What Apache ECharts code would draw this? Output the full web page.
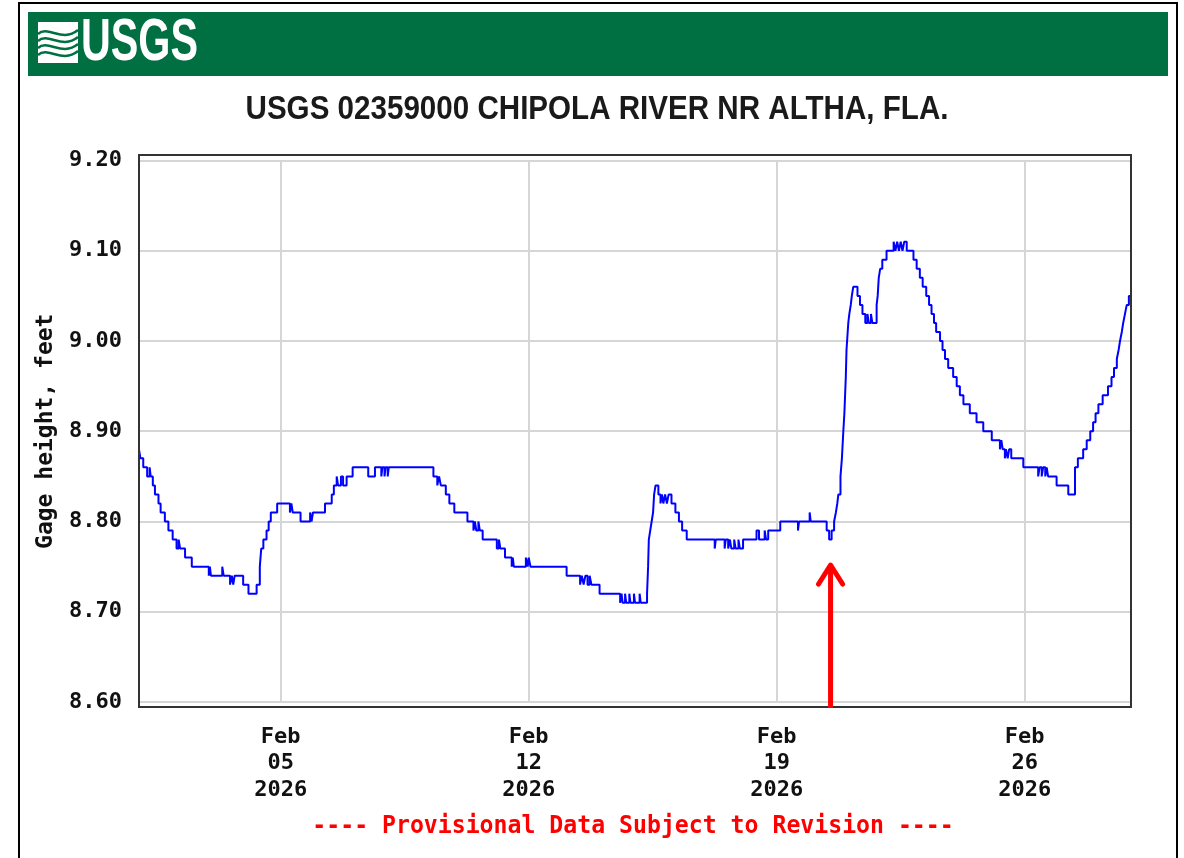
<!DOCTYPE html>
<html>
<head>
<meta charset="utf-8">
<title>USGS 02359000 CHIPOLA RIVER NR ALTHA, FLA.</title>
<script src="https://cdn.jsdelivr.net/npm/echarts@6/dist/echarts.min.js"></script>
<style>
  html, body { margin: 0; padding: 0; background: #fff; }
  #gage { width: 1184px; height: 858px; }
</style>
</head>
<body>
<div id="gage"></div>
<script>
  // gage height readings: [days since 2026-02-01 00:00, feet], drawn as a step line
  const readings = [
    [0.00, 8.88], [0.04, 8.87], [0.12, 8.86], [0.23, 8.85], [0.30, 8.86], [0.33, 8.85],
    [0.39, 8.84], [0.45, 8.83], [0.55, 8.82], [0.61, 8.81], [0.73, 8.80], [0.83, 8.79],
    [0.95, 8.78], [1.06, 8.77], [1.12, 8.78], [1.16, 8.77], [1.30, 8.76], [1.49, 8.75],
    [1.97, 8.74], [2.00, 8.75], [2.03, 8.74], [2.35, 8.75], [2.39, 8.74], [2.57, 8.73],
    [2.62, 8.74], [2.66, 8.73], [2.70, 8.74], [2.94, 8.73], [3.09, 8.72], [3.32, 8.73],
    [3.41, 8.75], [3.45, 8.77], [3.51, 8.78], [3.60, 8.79], [3.66, 8.80], [3.72, 8.81],
    [3.90, 8.82], [4.26, 8.81], [4.30, 8.82], [4.34, 8.81], [4.56, 8.80], [4.83, 8.81],
    [4.87, 8.80], [4.91, 8.81], [5.25, 8.82], [5.44, 8.83], [5.50, 8.84], [5.58, 8.85],
    [5.62, 8.84], [5.70, 8.85], [5.76, 8.84], [5.86, 8.85], [6.03, 8.86], [6.47, 8.85],
    [6.66, 8.86], [6.84, 8.85], [6.87, 8.86], [6.93, 8.85], [6.96, 8.86], [7.02, 8.85],
    [7.05, 8.86], [8.31, 8.85], [8.42, 8.84], [8.47, 8.85], [8.52, 8.84], [8.66, 8.83],
    [8.76, 8.82], [8.90, 8.81], [9.27, 8.80], [9.44, 8.79], [9.48, 8.80], [9.52, 8.79],
    [9.58, 8.80], [9.62, 8.79], [9.70, 8.78], [10.10, 8.77], [10.16, 8.78], [10.20, 8.77],
    [10.33, 8.76], [10.52, 8.75], [10.55, 8.76], [10.58, 8.75], [10.92, 8.76], [10.97, 8.75],
    [11.00, 8.76], [11.05, 8.75], [12.07, 8.74], [12.45, 8.73], [12.50, 8.74], [12.55, 8.73],
    [12.60, 8.74], [12.66, 8.73], [12.72, 8.74], [12.77, 8.73], [13.00, 8.72], [13.58, 8.71],
    [13.62, 8.72], [13.65, 8.71], [13.72, 8.72], [13.75, 8.71], [13.84, 8.72], [13.87, 8.71],
    [13.97, 8.72], [14.00, 8.71], [14.13, 8.72], [14.16, 8.71], [14.34, 8.72], [14.37, 8.75],
    [14.39, 8.78], [14.43, 8.79], [14.47, 8.80], [14.51, 8.81], [14.54, 8.83], [14.58, 8.84],
    [14.66, 8.83], [14.72, 8.82], [14.76, 8.83], [14.80, 8.82], [14.85, 8.83], [14.90, 8.82],
    [14.95, 8.83], [15.03, 8.82], [15.14, 8.81], [15.24, 8.80], [15.33, 8.79], [15.46, 8.78],
    [16.25, 8.77], [16.28, 8.78], [16.53, 8.77], [16.56, 8.78], [16.63, 8.77], [16.68, 8.78],
    [16.72, 8.77], [16.80, 8.78], [16.84, 8.77], [16.92, 8.78], [16.96, 8.77], [17.05, 8.78],
    [17.43, 8.79], [17.50, 8.78], [17.66, 8.79], [17.70, 8.78], [17.76, 8.79], [18.10, 8.80],
    [18.60, 8.79], [18.63, 8.80], [18.93, 8.81], [18.96, 8.80], [19.41, 8.79], [19.48, 8.78],
    [19.55, 8.79], [19.62, 8.80], [19.67, 8.81], [19.71, 8.82], [19.74, 8.83], [19.80, 8.85],
    [19.84, 8.87], [19.88, 8.90], [19.91, 8.92], [19.93, 8.94], [19.95, 8.96], [19.97, 8.99],
    [20.02, 9.02], [20.05, 9.03], [20.09, 9.04], [20.12, 9.05], [20.16, 9.06], [20.28, 9.05],
    [20.35, 9.04], [20.42, 9.03], [20.50, 9.02], [20.56, 9.03], [20.60, 9.02], [20.66, 9.03],
    [20.70, 9.02], [20.82, 9.04], [20.85, 9.05], [20.88, 9.07], [20.92, 9.08], [20.98, 9.09],
    [21.10, 9.10], [21.30, 9.11], [21.35, 9.10], [21.40, 9.11], [21.45, 9.10], [21.50, 9.11],
    [21.55, 9.10], [21.60, 9.11], [21.67, 9.10], [21.86, 9.09], [21.95, 9.08], [22.04, 9.07],
    [22.12, 9.06], [22.22, 9.05], [22.30, 9.04], [22.37, 9.03], [22.44, 9.02], [22.50, 9.01],
    [22.61, 9.00], [22.68, 8.99], [22.75, 8.98], [22.84, 8.97], [22.98, 8.96], [23.08, 8.95],
    [23.17, 8.94], [23.27, 8.93], [23.45, 8.92], [23.64, 8.91], [23.83, 8.90], [24.07, 8.89],
    [24.30, 8.88], [24.34, 8.89], [24.38, 8.88], [24.44, 8.87], [24.47, 8.88], [24.52, 8.87],
    [24.56, 8.88], [24.62, 8.87], [24.96, 8.86], [25.38, 8.85], [25.42, 8.86], [25.48, 8.85],
    [25.52, 8.86], [25.58, 8.85], [25.62, 8.86], [25.66, 8.85], [25.90, 8.84], [26.23, 8.83],
    [26.42, 8.86], [26.50, 8.87], [26.65, 8.88], [26.75, 8.89], [26.85, 8.90], [26.93, 8.91],
    [27.00, 8.92], [27.08, 8.93], [27.20, 8.94], [27.35, 8.95], [27.45, 8.96], [27.52, 8.97],
    [27.60, 8.98], [27.65, 8.99], [27.69, 9.00], [27.74, 9.01], [27.78, 9.02], [27.83, 9.03],
    [27.88, 9.04], [27.94, 9.05], [28.00, 9.05]
  ]

  // x ticks (days since Feb 1) and y range
  const tickDays = [4, 11, 18, 25]
  const yMin = 8.6
  const yMax = 9.2
  const yStep = 0.1

  // red arrow annotation (day, feet of the tip)
  const arrowDay = 19.52
  const arrowTipFeet = 8.754

  const titleText = 'USGS 02359000 CHIPOLA RIVER NR ALTHA, FLA.'
  const noteText = '---- Provisional Data Subject to Revision ----'
  const months = ['Jan', 'Feb', 'Mar', 'Apr', 'May', 'Jun', 'Jul', 'Aug', 'Sep', 'Oct', 'Nov', 'Dec']
  const startMs = Date.UTC(2026, 1, 1)

  const monoFont = '"DejaVu Sans Mono", monospace'
  const gridColor = '#d6d6d6'
  const usgsGreen = '#006f41'

  const dayLabel = d => {
    const dt = new Date(startMs + d * 86400000)
    const dd = String(dt.getUTCDate()).padStart(2, '0')
    return `${months[dt.getUTCMonth()]}\n${dd}\n${dt.getUTCFullYear()}`
  }

  // little wave strokes for the logo box
  const wave = (id, y) => ({
    type: 'bezierCurve', id,
    shape: { x1: 38, y1: y, cpx1: 48, cpy1: y - 9, cpx2: 62, cpy2: y + 9, x2: 78, y2: y - 4 },
    style: { fill: 'none', stroke: usgsGreen, lineWidth: 2.5 }
  })

  const chart = echarts.init(document.getElementById('gage'))

  const option = {
    animation: false,
    grid: { left: 139, right: 53, top: 160.5, bottom: 156 },
    xAxis: {
      type: 'value',
      min: 0,
      max: 28,
      axisLine: { show: false },
      axisTick: { show: false, customValues: tickDays },
      axisLabel: {
        customValues: tickDays,
        formatter: dayLabel,
        margin: 22,
        lineHeight: 26.5,
        fontFamily: monoFont,
        fontWeight: 'bold',
        fontSize: 22,
        color: '#111'
      },
      splitLine: { show: true, lineStyle: { color: gridColor, width: 2 } }
    },
    yAxis: {
      type: 'value',
      min: yMin,
      max: yMax,
      interval: yStep,
      name: 'Gage height, feet',
      nameLocation: 'middle',
      nameRotate: 90,
      nameGap: 81,
      nameTextStyle: { fontFamily: monoFont, fontWeight: 'bold', fontSize: 23, color: '#111' },
      axisLine: { show: false },
      axisTick: { show: false },
      axisLabel: {
        formatter: v => v.toFixed(2),
        margin: 17,
        padding: [6, 0, 0, 0],
        fontFamily: monoFont,
        fontWeight: 'bold',
        fontSize: 22,
        color: '#111'
      },
      splitLine: { show: true, lineStyle: { color: gridColor, width: 2 } }
    },
    series: [
      {
        name: 'Gage height',
        type: 'line',
        step: 'end',
        data: readings,
        showSymbol: false,
        silent: true,
        z: 3,
        lineStyle: { color: '#0000ff', width: 2 }
      }
    ],
    graphic: [
      // outer border
      { type: 'rect', id: 'border', z: 20, shape: { x: 19, y: 3, width: 1158, height: 900 },
        style: { fill: 'none', stroke: '#000', lineWidth: 2 } },
      // green banner with logo
      { type: 'rect', id: 'banner', shape: { x: 28, y: 12, width: 1140, height: 64 },
        style: { fill: usgsGreen } },
      { type: 'rect', id: 'logoBox', shape: { x: 38, y: 22, width: 40, height: 41 },
        style: { fill: '#ffffff' } },
      wave('wave1', 34),
      wave('wave2', 41),
      wave('wave3', 48),
      wave('wave4', 55),
      { type: 'text', id: 'logoText', x: 81, y: 44, scaleX: 0.7,
        style: { text: 'USGS', fill: '#ffffff', font: 'bold 59px "Liberation Sans", Arial, sans-serif',
          align: 'left', verticalAlign: 'middle' } },
      // title
      { type: 'text', id: 'title', x: 597, y: 110, scaleX: 0.87,
        style: { text: titleText, fill: '#1a1a1a', font: 'bold 34px "Liberation Sans", Arial, sans-serif',
          align: 'center', verticalAlign: 'middle' } },
      // provisional note
      { type: 'text', id: 'note', x: 633, y: 827, scaleX: 0.965,
        style: { text: noteText, fill: '#ff0000', font: 'bold 24px "DejaVu Sans Mono", monospace',
          align: 'center', verticalAlign: 'middle' } },
      // plot frame
      { type: 'rect', id: 'frame', z: 10, shape: { x: 139, y: 155, width: 992, height: 552 },
        style: { fill: 'none', stroke: '#333', lineWidth: 2 } }
    ]
  }

  chart.setOption(option)

  // arrow placed through the axes
  const [ax, tipY] = chart.convertToPixel({ gridIndex: 0 }, [arrowDay, arrowTipFeet])
  const baseY = chart.convertToPixel({ gridIndex: 0 }, [arrowDay, yMin])[1] + 6
  chart.setOption({
    graphic: [
      { type: 'line', id: 'arrowShaft', z: 12, shape: { x1: ax, y1: baseY, x2: ax, y2: tipY + 3 },
        style: { stroke: '#ff0000', lineWidth: 5 } },
      { type: 'polyline', id: 'arrowHead', z: 12,
        shape: { points: [[ax - 12, tipY + 21], [ax, tipY + 2], [ax + 12, tipY + 21]] },
        style: { fill: 'none', stroke: '#ff0000', lineWidth: 5, lineCap: 'round', lineJoin: 'round' } }
    ]
  })

  window.addEventListener('resize', () => {
    chart.resize()
  })
</script>
</body>
</html>
